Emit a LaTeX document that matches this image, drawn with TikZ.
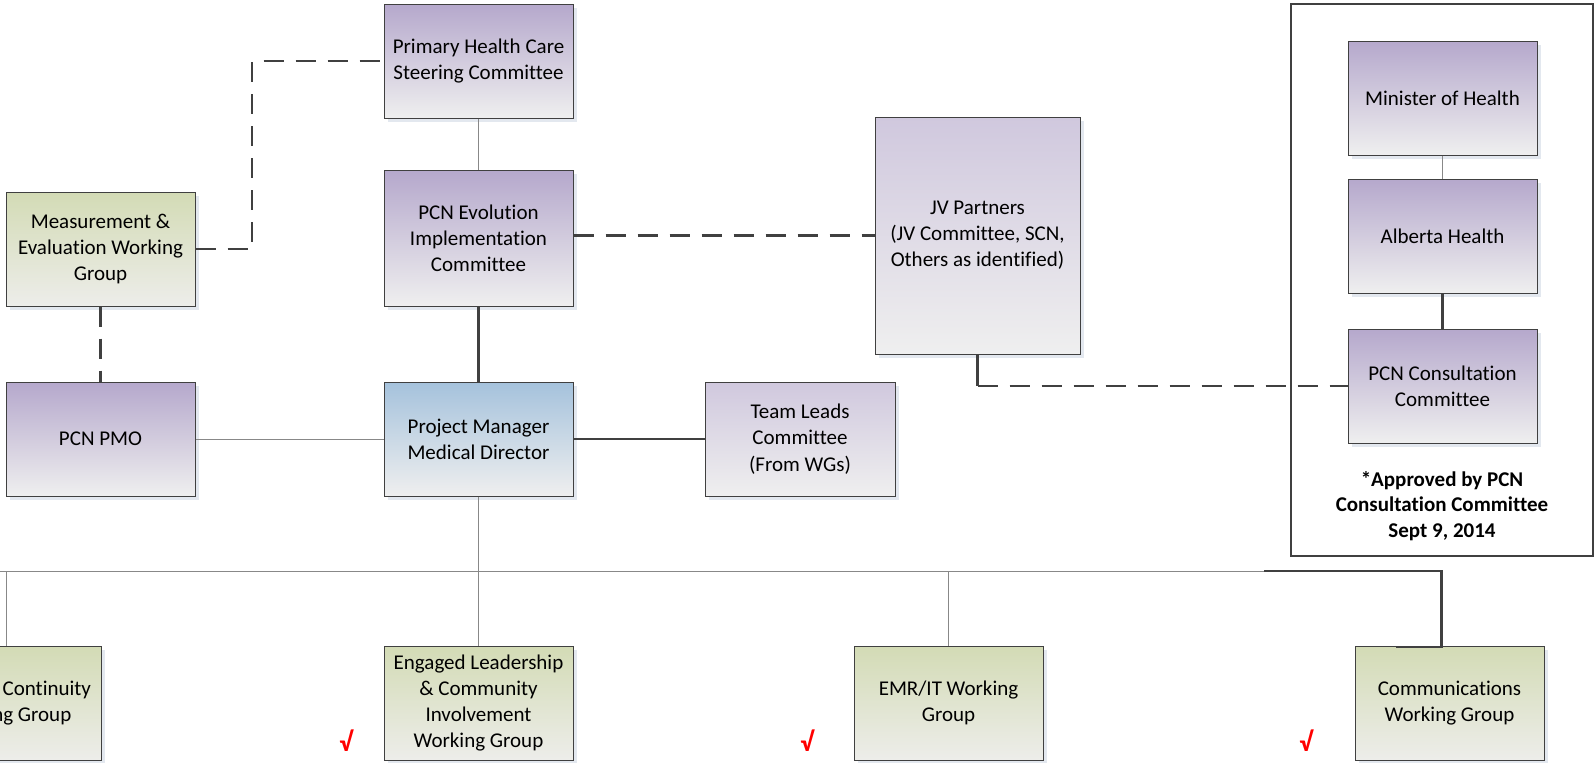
\documentclass[tikz,border=0pt]{standalone}
\usepackage{fontspec}
\setmainfont{Carlito}[Ligatures=NoCommon]
\usetikzlibrary{shadows}
\definecolor{purtop}{HTML}{B5A8CC}
\definecolor{paletop}{HTML}{D0C8DE}
\definecolor{bluetop}{HTML}{A5C2DC}
\definecolor{greentop}{HTML}{D3DBB5}
\definecolor{boxbot}{HTML}{EFEFEF}
\definecolor{greenbot}{HTML}{EDEDEA}
\definecolor{boxline}{HTML}{404040}
\definecolor{thinline}{HTML}{888888}
\definecolor{shadowc}{HTML}{E3E8EF}
\begin{document}
\begin{tikzpicture}[x=1pt,y=-1pt,
  box/.style={draw=boxline, line width=1pt, rectangle, minimum width=189pt,
    minimum height=114pt, inner sep=2pt, align=center,
    font=\fontsize{21}{26.2}\selectfont,
    drop shadow={shadow xshift=4pt, shadow yshift=-4pt, fill=shadowc, opacity=1}},
  purbox/.style={box, top color=purtop, bottom color=boxbot},
  palebox/.style={box, top color=paletop, bottom color=boxbot},
  bluebox/.style={box, top color=bluetop, bottom color=boxbot},
  greenbox/.style={box, top color=greentop, bottom color=greenbot},
  thin conn/.style={draw=thinline, line width=1pt},
  thick conn/.style={draw=boxline, line width=2.6pt},
  dash conn/.style={draw=boxline, line width=2.6pt, dash pattern=on 20pt off 12pt},
  checkmark/.style={text=red, font=\bfseries\fontsize{27}{28}\selectfont, inner sep=0pt}
]
\useasboundingbox (0,0) rectangle (1596,763);
\fill[white] (0,0) rectangle (1596,763);

% right frame
\node[draw=boxline, line width=1.5pt, minimum width=302pt, minimum height=552pt, inner sep=0pt] (frame) at (1442,280) {};

% nodes
\node[purbox] (phc) at (478.5,61) {Primary Health Care\\Steering Committee};
\node[purbox, minimum height=136pt] (evo) at (478.5,238) {PCN Evolution\\Implementation\\Committee};
\node[greenbox] (meas) at (100.5,249) {Measurement \&\\Evaluation Working\\Group};
\node[purbox] (pmo) at (100.5,439) {PCN PMO};
\node[bluebox] (pm) at (478.5,439) {Project Manager\\Medical Director};
\node[palebox, minimum width=190pt] (team) at (800,439) {Team Leads\\Committee\\(From WGs)};
\node[palebox, minimum width=205pt, minimum height=237pt] (jv) at (977.5,235.5) {JV Partners\\(JV Committee, SCN,\\Others as identified)};
\node[purbox] (min) at (1442.5,98) {Minister of Health};
\node[purbox] (ab) at (1442.5,236) {Alberta Health};
\node[purbox] (cons) at (1442.5,386) {PCN Consultation\\Committee};
\node[align=center, font=\bfseries\fontsize{21}{25.2}\selectfont] (appr) at (1442,506) {*Approved by PCN\\Consultation Committee\\Sept 9, 2014};

\node[greenbox] (cont) at (6.5,703) {Access \& Continuity\\Working Group};
\node[greenbox] (eng) at (478.5,703) {Engaged Leadership\\\& Community\\Involvement\\Working Group};
\node[greenbox] (emr) at (948.5,703) {EMR/IT Working\\Group};
\node[greenbox] (comm) at (1449.5,703) {Communications\\Working Group};

\node[checkmark] (c1) at (346,741) {√};
\node[checkmark] (c2) at (807,741) {√};
\node[checkmark] (c3) at (1306,741) {√};

% bus coordinates
\coordinate (busL) at (0,571);
\coordinate (busA) at (6,571);
\coordinate (busE) at (948.5,571);
\coordinate (busG) at (1265,571);
\coordinate (busR) at (1441.5,571);
\coordinate (commC) at (1441.5,647);
\coordinate (commL) at (1397,647);
\coordinate (contT) at (6,646);
\coordinate (jvB) at (977.5,386);
\coordinate (measR) at (252,249);
\coordinate (measT) at (252,61);

% connectors
\draw[thin conn] (phc.south) -- (evo.north);
\draw[thick conn] (evo.south) -- (pm.north);
\draw[thin conn] (pmo.east) -- (pm.west);
\draw[thick conn] (pm.east) -- (team.west);
\draw[dash conn] (meas.south) -- (pmo.north);
\draw[dash conn] (meas.east) -- (measR) -- (measT) -- (phc.west |- measT);
\draw[dash conn] (evo.east |- jv.west) -- (jv.west);
\draw[thick conn] (jv.south) -- (jvB);
\draw[dash conn] (jvB) -- (cons.west |- jvB);
\draw[thin conn] (min.south) -- (ab.north);
\draw[thick conn] (ab.south) -- (cons.north);

\draw[thin conn] (pm.south) -- (eng.north);
\draw[thin conn] (busL) -- (busG);
\draw[thin conn] (busA) -- (contT);
\draw[thin conn] (busE) -- (emr.north);
\draw[thick conn, line cap=rect] (busG) -- (busR) -- (commC) -- (commL);
\end{tikzpicture}
\end{document}
